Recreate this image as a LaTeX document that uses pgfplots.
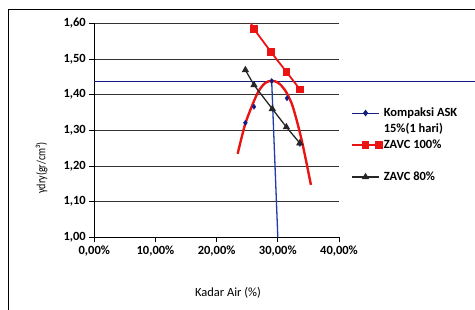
\documentclass[border=0pt]{standalone}
\usepackage{fontspec}
\setmainfont{Carlito}
\usepackage{pgfplots}
\pgfplotsset{compat=1.18}
\definecolor{navy}{RGB}{20,30,130}
\definecolor{lblue}{RGB}{30,60,170}
\definecolor{xred}{RGB}{235,20,20}
\begin{document}
\begin{tikzpicture}[font=\fontsize{12.5bp}{15bp}\selectfont]
\path[use as bounding box] (0,0) rectangle (475bp,310bp);
\draw[line width=0.8bp] (8bp,0) -- (8bp,301bp) -- (475bp,301bp);
\begin{axis}[
 at={(94.3bp,72.7bp)}, anchor=south west,
 scale only axis, width=244.7bp, height=214bp,
 xmin=0, xmax=40, ymin=1.0, ymax=1.6,
 axis lines=left, axis line style={-, black, line width=0.8bp},
 xtick={0,10,20,30,40},
 xticklabels={{0,00\%},{10,00\%},{20,00\%},{30,00\%},{40,00\%}},
 ytick={1.0,1.1,1.2,1.3,1.4,1.5,1.6},
 yticklabels={{1,00},{1,10},{1,20},{1,30},{1,40},{1,50},{1,60}},
 ymajorgrids, grid style={black!80, line width=0.7bp},
 tick align=outside, major tick length=5bp, tick style={black, line width=0.7bp},
 ticklabel style={font=\fontsize{12.5bp}{15bp}\selectfont\bfseries},
 clip=false,
 xlabel={Kadar Air (\%)},
 xlabel style={at={(axis description cs:0.546,-0.26)}, anchor=center},
 ylabel={\scalebox{0.8}[1]{γdry(gr/cm³)}},
 ylabel style={at={(axis description cs:-0.215,0.324)}, anchor=center},
 legend style={draw=none, fill=none, at={(axis description cs:1.049,0.619)}, anchor=north west,
   font=\fontsize{12.5bp}{15bp}\selectfont\bfseries, cells={anchor=west}, row sep=0pt,
   inner sep=0pt, nodes={text height=9bp, text depth=3bp, inner sep=2bp}},
 legend image code/.code={\draw[mark repeat=2,mark phase=2,#1] plot coordinates {(0cm,0cm) (0.475cm,0cm) (0.95cm,0cm)};},
]
% reference lines
\addplot[navy, line width=1.3bp, forget plot] coordinates {(0,1.436) (62.3,1.436)};
\addplot[lblue, line width=1.3bp, forget plot] coordinates {(29.0,1.436) (30.0,1.0)};
% polynomial trendline
\addplot[xred, line width=2.4bp, smooth, forget plot] coordinates {
 (23.43,1.234) (24.62,1.315) (25.72,1.366) (26.80,1.408) (27.89,1.432)
 (28.99,1.439) (30.07,1.433) (31.16,1.413) (32.25,1.376) (33.07,1.329)
 (33.89,1.273) (34.59,1.217) (35.41,1.147)};
% Kompaksi ASK
\addplot[only marks, navy, mark=diamond*, mark size=2.6bp, forget plot] coordinates {
 (24.7,1.321) (26.1,1.366) (29.0,1.438) (31.5,1.390) (33.6,1.262)};
\addlegendimage{navy, line width=1bp, mark=diamond*, mark size=2.6bp}
\addlegendentry{Kompaksi ASK}
\addlegendimage{empty legend}
\addlegendentry{15\%(1 hari)}
% ZAVC 100%
\addplot[xred, line width=1.8bp, mark=square*, mark size=2.8bp, mark indices={2,3,4,5}] coordinates {
 (25.6,1.600) (26.1,1.584) (28.9,1.519) (31.4,1.464) (33.6,1.415)};
\addlegendentry{ZAVC 100\%}
\addlegendimage{empty legend}
\addlegendentry{}
% ZAVC 80%
\addplot[black!85, line width=1.3bp, mark=triangle*, mark size=3bp] coordinates {
 (24.7,1.469) (26.1,1.427) (29.1,1.360) (31.4,1.309) (33.6,1.264)};
\addlegendentry{ZAVC 80\%}
\end{axis}
\end{tikzpicture}
\end{document}
